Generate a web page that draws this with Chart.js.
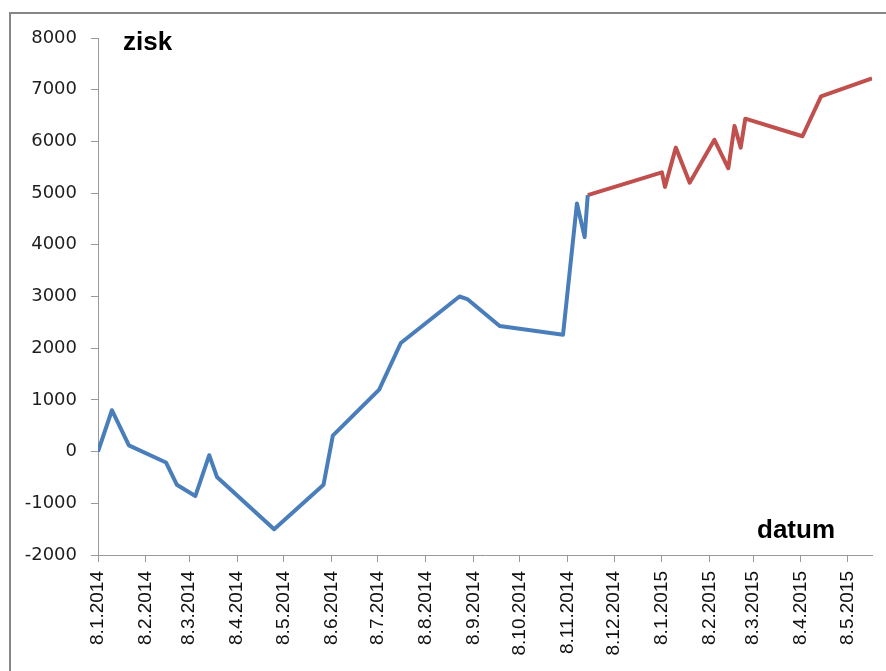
<!DOCTYPE html>
<html>
<head>
<meta charset="utf-8">
<script src="https://cdn.jsdelivr.net/npm/chart.js@4/dist/chart.umd.min.js"></script>
<style>
  html, body { margin: 0; padding: 0; background: #fff; overflow: hidden; }
  #wrap { position: relative; width: 886px; height: 671px; }
  #frame {
    position: absolute; left: 9px; top: 12px; width: 900px; height: 700px;
    border-left: 2px solid #868686; border-top: 2px solid #868686;
  }
  #chart { position: absolute; left: 0; top: 0; }
</style>
</head>
<body>
<div id="wrap">
  <div id="frame"></div>
  <canvas id="chart" width="886" height="671"></canvas>
</div>
<script>
// ── Data (dates as d.m.yyyy, values = zisk) ──
const blueDates = [
  '8.1.2014', '17.1.2014', '28.1.2014', '21.2.2014', '28.2.2014', '12.3.2014',
  '21.3.2014', '26.3.2014', '2.5.2014', '3.6.2014', '9.6.2014', '9.7.2014',
  '23.7.2014', '30.8.2014', '4.9.2014', '25.9.2014', '5.11.2014', '14.11.2014',
  '19.11.2014', '21.11.2014'
];
const blueValues = [
  0, 800, 120, -210, -640, -860,
  -70, -490, -1500, -640, 310, 1200,
  2100, 3000, 2950, 2430, 2260, 4800,
  4150, 4960
];

const redDates = [
  '21.11.2014', '8.1.2015', '10.1.2015', '17.1.2015', '26.1.2015', '11.2.2015',
  '20.2.2015', '24.2.2015', '28.2.2015', '3.3.2015', '9.4.2015', '21.4.2015',
  '24.5.2015'
];
const redValues = [
  4960, 5400, 5120, 5880, 5200, 6030,
  5480, 6300, 5880, 6440, 6100, 6870,
  7220
];

const xTickLabels = [
  '8.1.2014', '8.2.2014', '8.3.2014', '8.4.2014', '8.5.2014', '8.6.2014',
  '8.7.2014', '8.8.2014', '8.9.2014', '8.10.2014', '8.11.2014', '8.12.2014',
  '8.1.2015', '8.2.2015', '8.3.2015', '8.4.2015', '8.5.2015'
];
const xAxisEnd = '24.5.2015';
const yTickValues = [-2000, -1000, 0, 1000, 2000, 3000, 4000, 5000, 6000, 7000, 8000];

const yTitle = 'zisk';
const xTitle = 'datum';

// ── day number since 8.1.2014 ──
const origin = Date.UTC(2014, 0, 8);
function dayOf(str) {
  const [d, m, y] = str.split('.').map(Number);
  return (Date.UTC(y, m - 1, d) - origin) / 86400000;
}
const toPoints = (dates, values) => dates.map((d, i) => ({ x: dayOf(d), y: values[i] }));

// ── axis titles drawn inside the plot ──
const axisTitles = {
  id: 'axisTitles',
  afterDraw(chart) {
    const { ctx, chartArea } = chart;
    ctx.save();
    ctx.fillStyle = '#000';
    ctx.font = "bold 26px 'Liberation Sans', Arial, sans-serif";
    ctx.textAlign = 'left';
    ctx.textBaseline = 'alphabetic';
    ctx.fillText(yTitle, chartArea.left + 25, chartArea.top + 12);
    ctx.fillText(xTitle, chartArea.right - 115, chartArea.bottom - 17);
    ctx.restore();
  }
};

const lineStyle = {
  borderWidth: 4,
  pointRadius: 0,
  pointHoverRadius: 0,
  tension: 0,
  fill: false,
  borderJoinStyle: 'round',
};

new Chart(document.getElementById('chart'), {
  type: 'line',
  data: {
    datasets: [
      { ...lineStyle, label: 'a', data: toPoints(blueDates, blueValues), borderColor: '#4a7ebb' },
      { ...lineStyle, label: 'b', data: toPoints(redDates, redValues), borderColor: '#c0504d' },
    ],
  },
  options: {
    responsive: false,
    animation: false,
    layout: { padding: { top: 38, right: 14, left: 0, bottom: 0 } },
    plugins: {
      legend: { display: false },
      tooltip: { enabled: false },
    },
    scales: {
      x: {
        type: 'linear',
        min: 0,
        max: dayOf(xAxisEnd),
        border: { color: '#999', width: 1 },
        grid: { drawOnChartArea: false, drawTicks: true, tickLength: 7, tickColor: '#999' },
        afterBuildTicks: scale => {
          scale.ticks = xTickLabels.map(l => ({ value: dayOf(l) }));
        },
        afterFit: scale => { scale.height = 116; },
        ticks: {
          autoSkip: false,
          minRotation: 90,
          maxRotation: 90,
          padding: 9,
          color: '#111',
          font: { family: "'Liberation Sans', Arial, sans-serif", size: 19 },
          callback: (v, i) => xTickLabels[i],
        },
      },
      y: {
        min: -2000,
        max: 8000,
        border: { color: '#999', width: 1 },
        grid: { drawOnChartArea: false, drawTicks: true, tickLength: 7, tickColor: '#999' },
        afterBuildTicks: scale => {
          scale.ticks = yTickValues.map(v => ({ value: v }));
        },
        afterFit: scale => { scale.width = 98; },
        ticks: {
          padding: 14,
          color: '#1e1e1e',
          font: { family: "'DejaVu Sans', Verdana, sans-serif", size: 18 },
          callback: v => String(v),
        },
      },
    },
  },
  plugins: [axisTitles],
});
</script>
</body>
</html>
